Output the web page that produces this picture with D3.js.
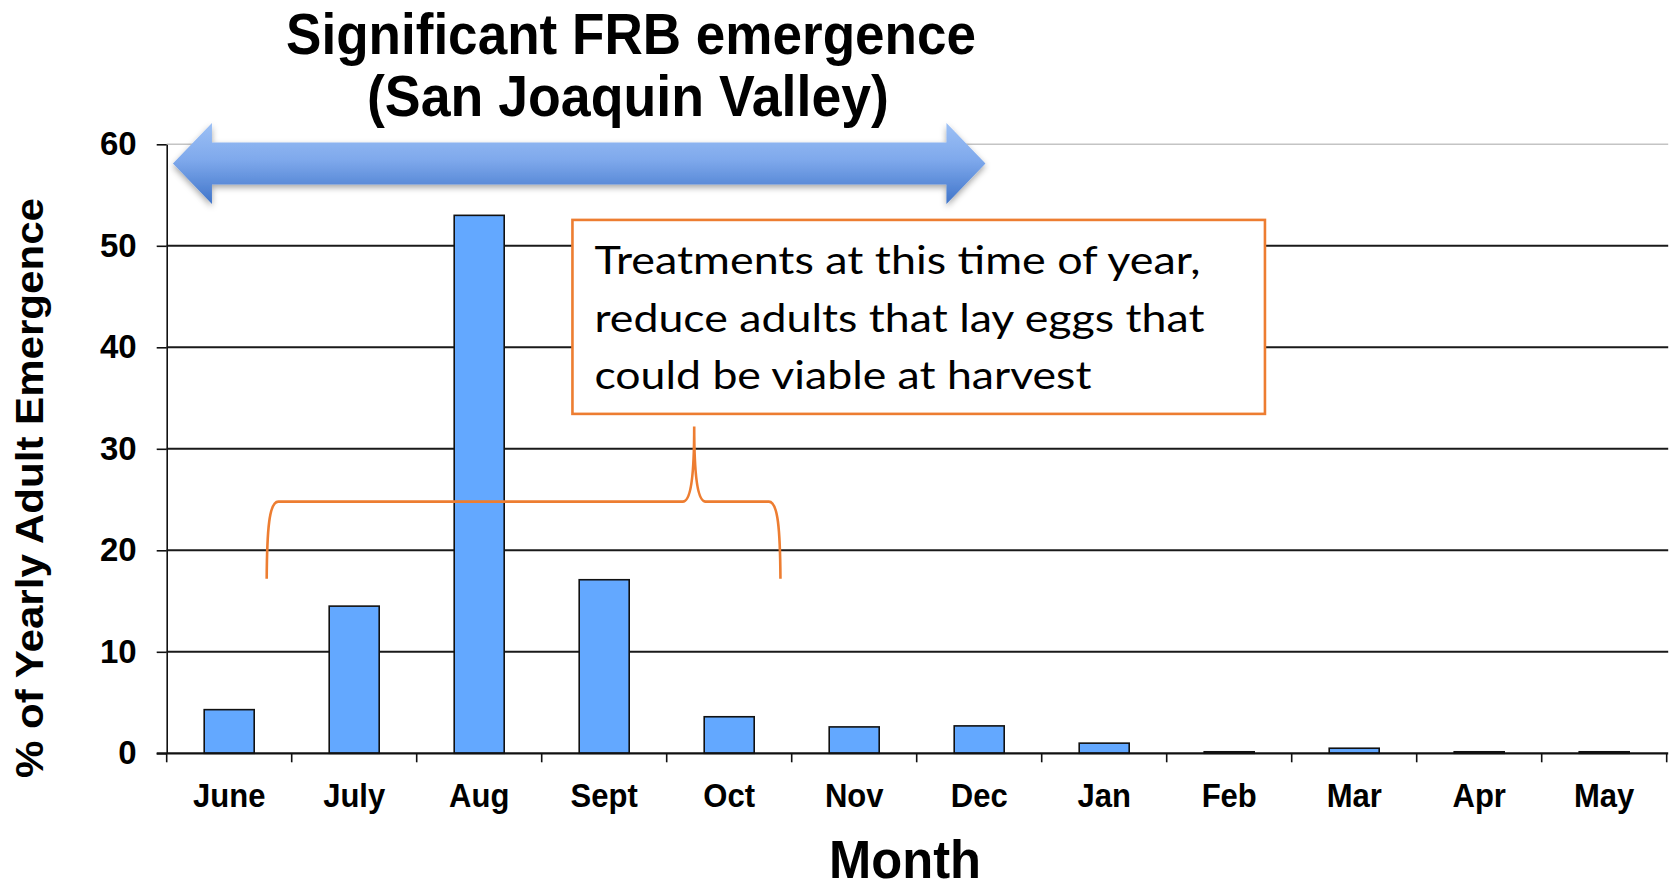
<!DOCTYPE html>
<html>
  <head>
    <script src="https://d3js.org/d3.v7.min.js" charset="utf-8"></script>
    <meta charset="UTF-8">
    <title>FRB emergence</title>
    <style>
      body { margin: 0; background: #fff; }
      .chart text { font-family: "Liberation Sans", Arial, sans-serif; }
    </style>
  </head>
  <body>
    <svg class="chart"></svg>
    <script type="text/javascript">

     var width = 1676,
         height = 884;

     var months = ["June", "July", "Aug", "Sept", "Oct", "Nov",
                   "Dec", "Jan", "Feb", "Mar", "Apr", "May"];
     var emergence = [4.3, 14.5, 53.0, 17.1, 3.6, 2.6,
                      2.7, 1.0, 0.15, 0.5, 0.15, 0.15];
     var yTicks = [0, 10, 20, 30, 40, 50, 60];

     var titleLines = ["Significant FRB emergence", "(San Joaquin Valley)"];
     var noteLines = ["Treatments at this time of year,",
                      "reduce adults that lay eggs that",
                      "could be viable at harvest"];

     // note: "top" is a read-only global in browsers, so use other names
     var plotL = 166.7, plotR = 1666.7, plotT = 144.3, plotB = 753.3;

     var chart = d3.select(".chart")
                   .attr("width", width)
                   .attr("height", height);

     var x = d3.scaleBand()
               .domain(months)
               .range([plotL, plotR])
               .paddingInner(0.6)
               .paddingOuter(0.3);

     // same range, in "month units", for boundary ticks and annotations
     var xi = d3.scaleLinear().domain([0, months.length]).range([plotL, plotR]);

     var y = d3.scaleLinear().domain([0, 60]).range([plotB, plotT]);

     var defs = chart.append("defs");
     var grad = defs.append("linearGradient")
                    .attr("id", "arrowFill")
                    .attr("x1", 0).attr("y1", 0).attr("x2", 0).attr("y2", 1);
     grad.append("stop").attr("offset", "0%").attr("stop-color", "#9cc0f5");
     grad.append("stop").attr("offset", "45%").attr("stop-color", "#7fa9ec");
     grad.append("stop").attr("offset", "100%").attr("stop-color", "#3f74c9");

     var shadow = defs.append("filter").attr("id", "shadow")
                      .attr("x", "-10%").attr("y", "-30%")
                      .attr("width", "120%").attr("height", "170%");
     shadow.append("feDropShadow")
           .attr("dx", 0).attr("dy", 3).attr("stdDeviation", 3)
           .attr("flood-color", "#000").attr("flood-opacity", 0.35);

     // gridlines
     chart.append("g")
          .selectAll("line")
          .data(yTicks.filter(function(d) { return d > 0; }))
          .enter().append("line")
          .attr("x1", plotL).attr("x2", plotR + 1.5)
          .attr("y1", function(d) { return y(d); })
          .attr("y2", function(d) { return y(d); })
          .attr("stroke", function(d) { return d === 60 ? "#c4c4c4" : "#1a1a1a"; })
          .attr("stroke-width", function(d) { return d === 60 ? 1.5 : 2; });

     // bars
     chart.append("g")
          .selectAll("rect")
          .data(emergence)
          .enter().append("rect")
          .attr("x", function(d, i) { return x(months[i]); })
          .attr("width", x.bandwidth())
          .attr("y", function(d) { return y(d); })
          .attr("height", function(d) { return y(0) - y(d); })
          .attr("fill", "#63a8ff")
          .attr("stroke", "#111")
          .attr("stroke-width", 1.6);

     // y axis
     var yAxis = chart.append("g")
                      .attr("transform", "translate(" + plotL + ",0)")
                      .call(d3.axisLeft(y).tickValues(yTicks)
                                          .tickSize(10).tickSizeOuter(0).tickPadding(20));
     yAxis.select(".domain").attr("stroke", "#111").attr("stroke-width", 1.6);
     yAxis.selectAll(".tick line").attr("stroke", "#111").attr("stroke-width", 1.6);
     yAxis.selectAll("text")
          .attr("font-family", "Liberation Sans, Arial, sans-serif")
          .attr("font-size", 33).attr("font-weight", "bold").attr("fill", "#000");

     // x axis: baseline, boundary ticks, month labels
     chart.append("line")
          .attr("x1", plotL - 10).attr("x2", plotR + 1.5)
          .attr("y1", y(0)).attr("y2", y(0))
          .attr("stroke", "#111").attr("stroke-width", 2.2);

     chart.append("g")
          .selectAll("line")
          .data(d3.range(months.length + 1))
          .enter().append("line")
          .attr("x1", function(d) { return xi(d); })
          .attr("x2", function(d) { return xi(d); })
          .attr("y1", y(0)).attr("y2", y(0) + 9)
          .attr("stroke", "#111").attr("stroke-width", 1.6);

     var xAxis = chart.append("g")
                      .attr("transform", "translate(0," + y(0) + ")")
                      .call(d3.axisBottom(x).tickSize(0).tickPadding(30));
     xAxis.select(".domain").remove();
     // labels in the reference are a little condensed: measure at 31px, draw taller
     xAxis.selectAll("text")
          .attr("font-family", "Liberation Sans, Arial, sans-serif")
          .attr("font-size", 31).attr("font-weight", "bold").attr("fill", "#000")
          .each(function() {
              var w = this.getComputedTextLength();
              d3.select(this).attr("font-size", 34)
                .attr("textLength", w)
                .attr("lengthAdjust", "spacingAndGlyphs");
          });

     // axis titles
     chart.append("text")
          .attr("transform", "translate(43,488) rotate(-90)")
          .attr("text-anchor", "middle")
          .attr("font-size", 38).attr("font-weight", "bold")
          .attr("textLength", 580).attr("lengthAdjust", "spacingAndGlyphs")
          .text("% of Yearly Adult Emergence");

     chart.append("text")
          .attr("x", 905).attr("y", 878)
          .attr("text-anchor", "middle")
          .attr("font-size", 53).attr("font-weight", "bold")
          .attr("textLength", 152).attr("lengthAdjust", "spacingAndGlyphs")
          .text("Month");

     // title
     chart.append("g")
          .selectAll("text")
          .data(titleLines)
          .enter().append("text")
          .attr("x", function(d, i) { return [631, 628][i]; })
          .attr("y", function(d, i) { return 54 + i * 62; })
          .attr("text-anchor", "middle")
          .attr("font-size", 57).attr("font-weight", "bold")
          .attr("textLength", function(d, i) { return [690, 522][i]; })
          .attr("lengthAdjust", "spacingAndGlyphs")
          .text(function(d) { return d; });

     // double arrow (emergence period)
     var a0 = xi(0.05), a1 = xi(6.55), head = 39,
         ac = y(58.1), shaftH = 21, headH = 40.5;
     var arrowPath = [
         [a0, ac], [a0 + head, ac - headH], [a0 + head, ac - shaftH],
         [a1 - head, ac - shaftH], [a1 - head, ac - headH], [a1, ac],
         [a1 - head, ac + headH], [a1 - head, ac + shaftH],
         [a0 + head, ac + shaftH], [a0 + head, ac + headH]
     ];
     chart.append("path")
          .attr("d", d3.line()(arrowPath) + "Z")
          .attr("fill", "url(#arrowFill)")
          .attr("filter", "url(#shadow)");

     // annotation box
     var bx0 = xi(3.246), bx1 = xi(8.786), by0 = y(52.55), by1 = y(33.44);
     chart.append("rect")
          .attr("x", bx0).attr("y", by0)
          .attr("width", bx1 - bx0).attr("height", by1 - by0)
          .attr("fill", "#fff")
          .attr("stroke", "#ed7d31").attr("stroke-width", 2.6);

     chart.append("g")
          .selectAll("text")
          .data(noteLines)
          .enter().append("text")
          .attr("x", bx0 + 22)
          .attr("y", function(d, i) { return 274 + i * 57.5; })
          .attr("font-size", 39)
          .attr("textLength", function(d, i) { return [606, 610, 497][i]; })
          .attr("lengthAdjust", "spacingAndGlyphs")
          .style("font-family", "Lato, 'Open Sans', sans-serif")
          .text(function(d) { return d; });

     // curly brace
     var bl = xi(0.8), br = xi(4.91), bs = xi(4.22),
         yb = y(17.2), yh = y(24.8), ys = y(32.2);
     var brace = d3.path();
     brace.moveTo(bl, yb);
     brace.bezierCurveTo(bl + 0.3, yh + 28, bl + 2.5, yh, bl + 11.6, yh);
     brace.lineTo(bs - 11.5, yh);
     brace.bezierCurveTo(bs - 4, yh, bs, yh - 22, bs, ys);
     brace.bezierCurveTo(bs, yh - 22, bs + 4, yh, bs + 11.5, yh);
     brace.lineTo(br - 11.6, yh);
     brace.bezierCurveTo(br - 2.5, yh, br - 0.3, yh + 28, br, yb);
     chart.append("path")
          .attr("d", brace.toString())
          .attr("fill", "none")
          .attr("stroke", "#ed7d31").attr("stroke-width", 2.6);

    </script>
  </body>
</html>
